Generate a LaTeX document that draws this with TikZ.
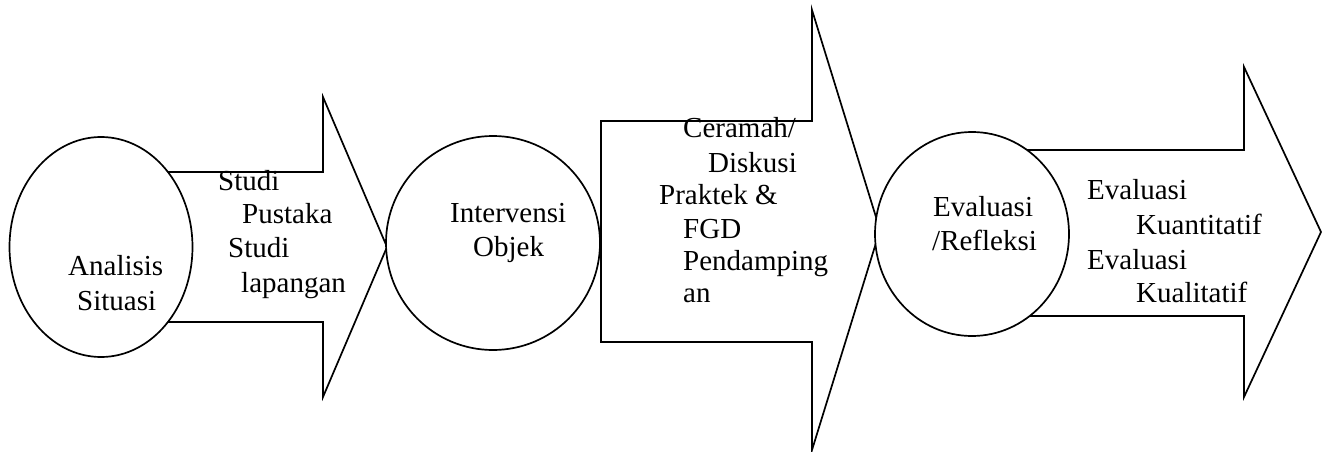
\documentclass[tikz,border=0pt]{standalone}
\usepackage{fontspec}
\setmainfont{Liberation Serif}
\begin{document}
\begin{tikzpicture}[x=1pt,y=-1pt,
  shp/.style={draw=black, line width=1.7pt, fill=white, line join=miter},
  lbl/.style={anchor=base west, inner sep=0pt, font=\fontsize{29}{34}\selectfont}]
\useasboundingbox (0,0) rectangle (1323,452);
% block arrows
\draw[shp] (101,172) -- (323,172) -- (323,97) -- (387,247) -- (323,397) -- (323,322) -- (101,322) -- cycle;
\draw[shp] (601,121) -- (812,121) -- (812,10) -- (880,230) -- (812,450) -- (812,342) -- (601,342) -- cycle;
\draw[shp] (972,150) -- (1244,150) -- (1244,67) -- (1321,232) -- (1244,397) -- (1244,316) -- (972,316) -- cycle;
% ellipses
\draw[shp] (101,247) ellipse [x radius=91.5, y radius=110];
\draw[shp] (493,243) ellipse [x radius=107, y radius=107];
\draw[shp] (972,234) ellipse [x radius=97, y radius=102];
% texts
\node[lbl] (a1) at (68,275) {Analisis};
\node[lbl] (a2) at (77,310) {Situasi};
\node[lbl] (s1) at (218,190) {Studi};
\node[lbl] (s2) at (242,223) {Pustaka};
\node[lbl] (s3) at (228,257) {Studi};
\node[lbl] (s4) at (241,292) {lapangan};
\node[lbl] (i1) at (450,222) {Intervensi};
\node[lbl] (i2) at (473,256) {Objek};
\node[lbl] (c1) at (683,137) {Ceramah/};
\node[lbl] (c2) at (708,172) {Diskusi};
\node[lbl] (c3) at (659,204) {Praktek \&};
\node[lbl] (c4) at (683,238) {FGD};
\node[lbl] (c5) at (683,270) {Pendamping};
\node[lbl] (c6) at (683,302) {an};
\node[lbl] (e1) at (933,216) {Evaluasi};
\node[lbl] (e2) at (932,250) {/Refleksi};
\node[lbl] (k1) at (1087,199) {Evaluasi};
\node[lbl] (k2) at (1136,234) {Kuantitatif};
\node[lbl] (k3) at (1087,269) {Evaluasi};
\node[lbl] (k4) at (1136,302) {Kualitatif};
\end{tikzpicture}
\end{document}
